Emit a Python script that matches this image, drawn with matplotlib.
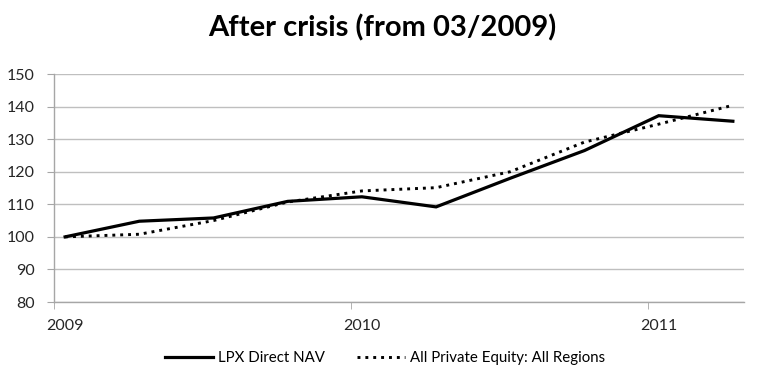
import matplotlib
matplotlib.use("Agg")
import matplotlib.pyplot as plt
import numpy as np

plt.rcParams['font.family'] = ['Lato', 'DejaVu Sans']

# quarterly points, 03/2009 .. 06/2011
trimestres = np.arange(10)
lpx_nav = [100, 104.8, 105.8, 110.9, 112.3, 109.2, 118.0, 126.5, 137.2, 135.5]
private_equity = [100, 100.8, 105.0, 110.7, 114.1, 115.1, 120.0, 129.1, 134.6, 140.4]

anos_pos = [0, 4, 8]
anos_txt = ["2009", "2010", "2011"]
marcas_anos = [-0.15, 3.85, 7.85]

fig = plt.figure(figsize=(7.65, 3.89), dpi=100)
ax = fig.add_axes([54 / 765, 1 - 302 / 389, 690 / 765, 228 / 389])

cinza = '#a6a6a6'

ax.plot(trimestres, lpx_nav, '-', color='black', lw=2.3,
        solid_joinstyle='miter', label='LPX Direct NAV')
ax.plot(trimestres, private_equity, color='black', lw=2.1,
        linestyle=(0, (1, 1.7)), label='All Private Equity: All Regions')

ax.set_ylim(80, 150)
ax.set_yticks(np.arange(80, 151, 10))
ax.set_xlim(-0.15, 9.15)
ax.set_xticks(anos_pos)
ax.set_xticklabels(anos_txt)
ax.set_xticks(marcas_anos, minor=True)
ax.tick_params(axis='x', which='major', length=0, pad=12, labelsize=11.5, colors='#262626')
ax.tick_params(axis='x', which='minor', length=5, color=cinza, direction='out')
ax.tick_params(axis='y', length=5, labelsize=11.5, colors='#262626', pad=9)
ax.tick_params(axis='y', color=cinza)

ax.grid(axis='y', color='#bfbfbf', lw=1.0)
ax.set_axisbelow(True)
for lado in ['top', 'right']:
    ax.spines[lado].set_visible(False)
for lado in ['left', 'bottom']:
    ax.spines[lado].set_color(cinza)
    ax.spines[lado].set_linewidth(1.0)

fig.suptitle("After crisis (from 03/2009)", x=382 / 765, y=1 - 14 / 389,
             va='top', fontsize=21, fontweight='bold')

fig.legend(loc='center', bbox_to_anchor=(385 / 765, 1 - 358 / 389), ncol=2,
           frameon=False, fontsize=10.8, handlelength=3.2, handletextpad=0.3,
           columnspacing=2.2)

fig.savefig("out.png", dpi=100)
